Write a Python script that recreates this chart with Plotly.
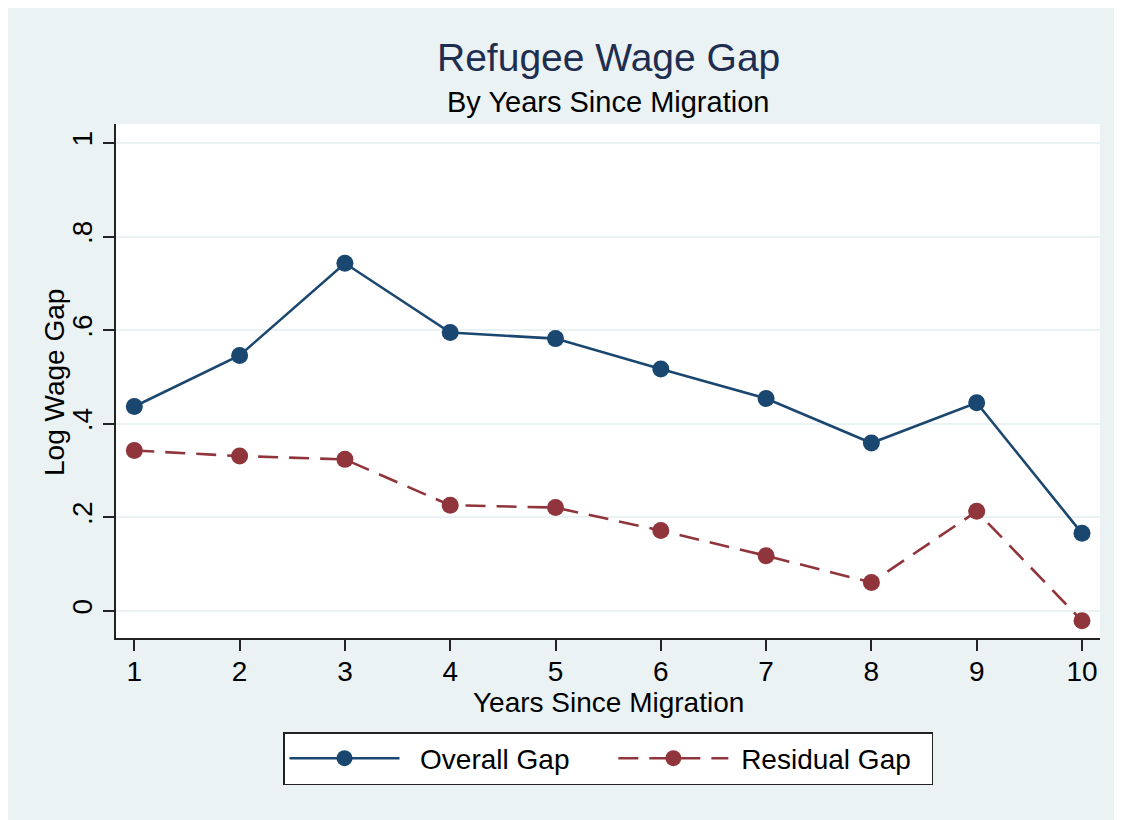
import plotly.graph_objects as go

# ---- data ----
years = [1, 2, 3, 4, 5, 6, 7, 8, 9, 10]
overall_gap = [0.437, 0.546, 0.743, 0.595, 0.582, 0.517, 0.454, 0.359, 0.445, 0.166]
residual_gap = [0.343, 0.331, 0.324, 0.226, 0.221, 0.172, 0.118, 0.061, 0.213, -0.021]
y_tick_vals = [0, 0.2, 0.4, 0.6, 0.8, 1]
y_tick_text = ["0", ".2", ".4", ".6", ".8", "1"]
x_tick_vals = years
x_tick_text = [str(v) for v in years]

title_text = "Refugee Wage Gap"
subtitle_text = "By Years Since Migration"
x_title = "Years Since Migration"
y_title = "Log Wage Gap"
series_names = ["Overall Gap", "Residual Gap"]

# ---- style ----
FONT = "Arial, 'Liberation Sans', sans-serif"
NAVY = "#1A476F"
MAROON = "#90353B"
BG = "#EAF2F3"
GRID = "#EAF2F3"
NB = "\u00a0"

# the page body adds an 8px offset
OFF = 8
W, H = 1122 - OFF, 820 - OFF
ML, MR, MT = 116 - OFF, 22, 124 - OFF
MB = H - (638 - OFF)
PW, PH = W - ML - MR, H - MT - MB


def px_x(screen):
    return (screen - OFF - ML) / PW


def px_y(screen):
    return (H - MB - (screen - OFF)) / PH


fig = go.Figure()
fig.add_trace(go.Scatter(
    x=years, y=overall_gap, name=NB * 2 + series_names[0] + NB * 5, mode="lines+markers",
    line=dict(color=NAVY, width=2.6),
    marker=dict(color=NAVY, size=17, line=dict(width=0)),
))
fig.add_trace(go.Scatter(
    x=years, y=residual_gap, name=NB + series_names[1] + NB * 2, mode="lines+markers",
    line=dict(color=MAROON, width=2.6, dash="20px,11px"),
    marker=dict(color=MAROON, size=17, line=dict(width=0)),
))

fig.update_layout(
    width=W, height=H, autosize=False,
    margin=dict(l=ML, r=MR, t=MT, b=MB, pad=0),
    paper_bgcolor=BG, plot_bgcolor="white",
    font=dict(family=FONT, size=28, color="black"),
    showlegend=True,
    legend=dict(
        orientation="h", x=0.5, xanchor="center", y=px_y(732), yanchor="top",
        bgcolor="white", bordercolor="#222", borderwidth=1.5,
        font=dict(family=FONT, size=28, color="black"),
        itemwidth=110, itemsizing="trace",
    ),
    xaxis=dict(
        range=[0.826, 10.171], tickmode="array", tickvals=x_tick_vals, ticktext=x_tick_text,
        showgrid=False, zeroline=False, showline=True, linecolor="#222", linewidth=1.5,
        ticks="outside", ticklen=11, tickwidth=1.5, tickcolor="#222",
        ticklabelstandoff=-3,
        tickfont=dict(size=28, family=FONT, color="black"),
    ),
    yaxis=dict(
        range=[-0.0577, 1.0406], tickmode="array", tickvals=y_tick_vals, ticktext=y_tick_text,
        showgrid=True, gridcolor=GRID, gridwidth=2, zeroline=False,
        showline=True, linecolor="#222", linewidth=1.5,
        ticks="outside", ticklen=11, tickwidth=1.5, tickcolor="#222",
        tickangle=-90, tickfont=dict(size=28, family=FONT, color="black"),
    ),
    annotations=[
        dict(text=title_text, x=0.5, y=px_y(57), xref="paper", yref="paper",
             xanchor="center", yanchor="middle", showarrow=False,
             font=dict(family=FONT, size=39, color="#1E2D50")),
        dict(text=subtitle_text, x=0.5, y=px_y(102), xref="paper", yref="paper",
             xanchor="center", yanchor="middle", showarrow=False,
             font=dict(family=FONT, size=29, color="black")),
        dict(text=x_title, x=0.5, y=px_y(702), xref="paper", yref="paper",
             xanchor="center", yanchor="middle", showarrow=False,
             font=dict(family=FONT, size=28, color="black")),
        dict(text=y_title, x=px_x(54), y=px_y(383), xref="paper", yref="paper",
             xanchor="center", yanchor="middle", showarrow=False, textangle=-90,
             font=dict(family=FONT, size=28, color="black")),
    ],
)

fig.write_html("out.html")
